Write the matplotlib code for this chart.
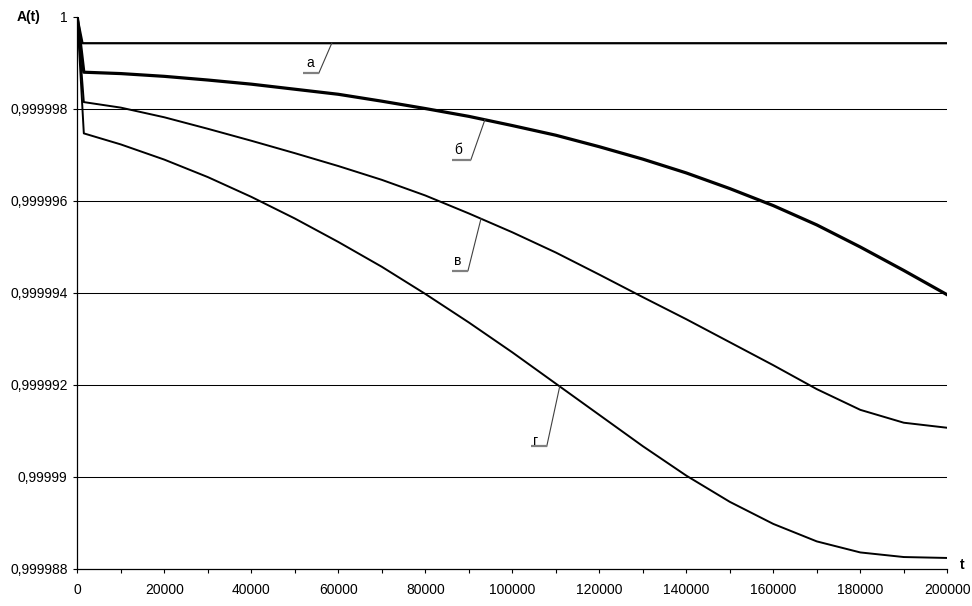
import numpy as np
import matplotlib
matplotlib.use("Agg")
import matplotlib.pyplot as plt
from matplotlib.ticker import FuncFormatter, FixedLocator, MultipleLocator

plt.rcParams['font.family'] = ['Liberation Sans', 'DejaVu Sans']

# ---- data ----
t_a = [0, 1200, 200000]
a_values = [1.0, 0.99999943, 0.99999943]

t_values = [0, 1500, 10000, 20000, 30000, 40000, 50000, 60000, 70000, 80000, 90000,
            100000, 110000, 120000, 130000, 140000, 150000, 160000, 170000, 180000,
            190000, 200000]
b_values = [1.0, 0.9999988, 0.99999877, 0.99999871, 0.99999863, 0.99999854, 0.99999843,
            0.99999832, 0.99999817, 0.99999801, 0.99999784, 0.99999764, 0.99999743,
            0.99999718, 0.99999691, 0.99999661, 0.99999627, 0.9999959, 0.99999548,
            0.999995, 0.99999449, 0.99999396]
v_values = [1.0, 0.99999815, 0.99999803, 0.99999782, 0.99999757, 0.99999731, 0.99999704,
            0.99999676, 0.99999646, 0.99999612, 0.99999573, 0.99999532, 0.99999488,
            0.9999944, 0.99999391, 0.99999343, 0.99999293, 0.99999243, 0.99999191,
            0.99999146, 0.99999118, 0.99999107]
g_values = [1.0, 0.99999747, 0.99999723, 0.9999969, 0.99999652, 0.99999609, 0.99999562,
            0.99999511, 0.99999457, 0.99999398, 0.99999336, 0.99999271, 0.99999203,
            0.99999135, 0.99999067, 0.99999003, 0.99998946, 0.99998898, 0.9999886,
            0.99998836, 0.99998826, 0.99998824]

y_ticks = [0.999988, 0.99999, 0.999992, 0.999994, 0.999996, 0.999998, 1.0]
x_ticks = [0, 20000, 40000, 60000, 80000, 100000, 120000, 140000, 160000, 180000, 200000]

series_labels = ['а', 'б', 'в', 'г']
label_t = [58500, 93700, 92800, 110900]

# ---- figure ----
fig = plt.figure(figsize=(9.72, 6.06), dpi=100)
ax = fig.add_axes([77.3 / 972, 1 - 569 / 606, 870 / 972, 552 / 606])

for yv in y_ticks[1:-1]:
    ax.axhline(yv, color='black', lw=0.75, zorder=1)

lines = [
    (t_a, a_values, 1.6),
    (t_values, b_values, 2.3),
    (t_values, v_values, 1.4),
    (t_values, g_values, 1.4),
]
for tx, yv, lw in lines:
    ax.plot(tx, yv, color='black', lw=lw, zorder=3, solid_joinstyle='round')

ax.set_xlim(0, 200000)
ax.set_ylim(0.999988, 1.0)

ax.xaxis.set_major_locator(FixedLocator(x_ticks))
ax.xaxis.set_minor_locator(MultipleLocator(10000))
ax.yaxis.set_major_locator(FixedLocator(y_ticks))


def yfmt(v, pos):
    s = f"{v:.6f}".rstrip('0').rstrip('.')
    return s.replace('.', ',')


ax.yaxis.set_major_formatter(FuncFormatter(yfmt))
ax.xaxis.set_major_formatter(FuncFormatter(lambda v, p: f"{int(round(v))}"))

for s in ['top', 'right']:
    ax.spines[s].set_visible(False)
for s in ['left', 'bottom']:
    ax.spines[s].set_linewidth(0.9)
    ax.spines[s].set_color('black')

ax.tick_params(axis='both', which='both', direction='out', length=3, width=0.8,
               colors='black', labelsize=10)
ax.tick_params(axis='x', which='major', pad=7)
ax.tick_params(axis='y', which='major', pad=4)
ax.set_facecolor('white')

# ---- leader labels ----
all_t = [t_a, t_values, t_values, t_values]
all_v = [a_values, b_values, v_values, g_values]
# offsets in display pixels: (elbow dx, elbow dy), horizontal length, text offset from elbow
leader_cfg = [
    ((-13, -30), 16, (-9, 10)),
    ((-14, -40), 19, (-13, 10)),
    ((-13, -52), 16, (-10, 10)),
    ((-13, -60), 16, (-11, 5)),
]
fig.canvas.draw()
inv = ax.transData.inverted()
for lab, tl, tx, yv, (el, hl, toff) in zip(series_labels, label_t, all_t, all_v, leader_cfg):
    y0 = np.interp(tl, tx, yv)
    p0 = ax.transData.transform((tl, y0))
    p1 = p0 + np.array(el)
    p2 = p1 + np.array([-hl, 0])
    d0, d1, d2 = inv.transform([p0, p1, p2])
    ax.plot([d0[0], d1[0]], [d0[1], d1[1]], color='#404040', lw=0.8, zorder=4, clip_on=False)
    ax.plot([d1[0], d2[0]], [d1[1], d2[1]], color='#808080', lw=1.6, zorder=4, clip_on=False,
            solid_capstyle='butt')
    pt = inv.transform(p1 + np.array(toff))
    ax.text(pt[0], pt[1], lab, fontsize=10, ha='center', va='center', zorder=5)

fig.text(29 / 972, 1 - 17 / 606, 'A(t)', fontsize=10, fontweight='bold', ha='center', va='center')
fig.text(962 / 972, 1 - 565 / 606, 't', fontsize=10, fontweight='bold', ha='center', va='center')

fig.savefig('out.png', dpi=100, facecolor='white')
